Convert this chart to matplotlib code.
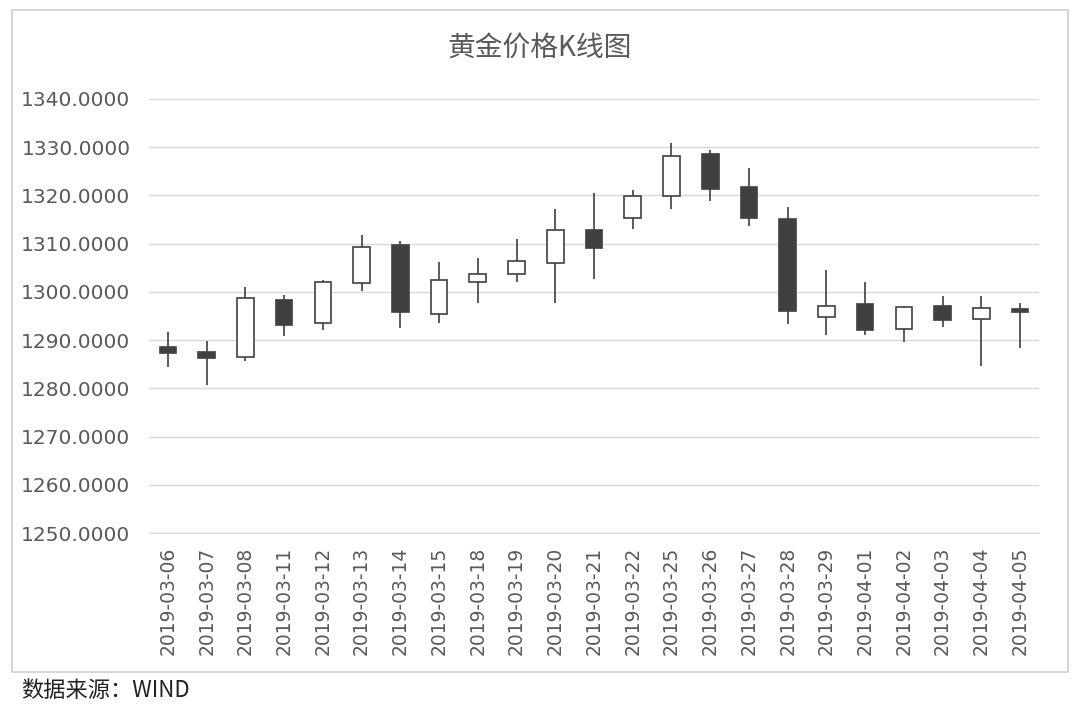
import matplotlib.pyplot as plt
from matplotlib.patches import Rectangle

plt.rcParams['font.family'] = ['DejaVu Sans', 'Noto Sans CJK SC']

dates = ["2019-03-06", "2019-03-07", "2019-03-08", "2019-03-11", "2019-03-12",
         "2019-03-13", "2019-03-14", "2019-03-15", "2019-03-18", "2019-03-19",
         "2019-03-20", "2019-03-21", "2019-03-22", "2019-03-25", "2019-03-26",
         "2019-03-27", "2019-03-28", "2019-03-29", "2019-04-01", "2019-04-02",
         "2019-04-03", "2019-04-04", "2019-04-05"]
opens = [1288.6, 1287.5, 1286.5, 1298.4, 1293.6, 1301.8, 1309.8, 1295.4,
         1302.0, 1303.7, 1306.0, 1312.9, 1315.4, 1319.8, 1328.6, 1321.7,
         1315.1, 1294.8, 1297.5, 1292.3, 1297.0, 1294.4, 1296.5]
closes = [1287.3, 1286.2, 1298.7, 1293.2, 1302.0, 1309.4, 1295.8, 1302.5,
          1303.8, 1306.5, 1312.9, 1309.1, 1319.9, 1328.2, 1321.4, 1315.3,
          1296.0, 1297.1, 1292.2, 1296.9, 1294.2, 1296.7, 1295.8]
highs = [1291.6, 1289.8, 1301.1, 1299.4, 1302.5, 1311.8, 1310.5, 1306.3,
         1307.0, 1311.0, 1317.2, 1320.5, 1321.2, 1330.8, 1329.4, 1325.6,
         1317.7, 1304.6, 1302.0, 1297.0, 1299.1, 1299.1, 1297.7]
lows = [1284.4, 1280.8, 1285.6, 1290.8, 1292.0, 1300.1, 1292.5, 1293.6,
        1297.8, 1302.0, 1297.8, 1302.7, 1313.0, 1317.2, 1318.8, 1313.6,
        1293.4, 1291.1, 1291.0, 1289.6, 1292.8, 1284.7, 1288.4]

grey = '#595959'
dark = '#404040'

fig = plt.figure(figsize=(10.8, 7.07), dpi=100)
ax = fig.add_axes([0.1376, 0.246, 0.8248, 0.614])

x = list(range(len(dates)))
ax.vlines(x, lows, highs, color=dark, linewidth=1.2, zorder=2)
bottoms = [min(o, c) for o, c in zip(opens, closes)]
heights = [max(abs(c - o), 0.3) for o, c in zip(opens, closes)]
faces = ['white' if c > o else dark for o, c in zip(opens, closes)]
ax.bar(x, heights, bottom=bottoms, width=0.43, color=faces,
       edgecolor=dark, linewidth=1.2, zorder=3)

ax.set_xlim(-0.5, len(dates) - 0.5)
ax.set_ylim(1250, 1340)
ax.set_yticks(range(1250, 1341, 10))
ax.set_yticklabels(['%.4f' % v for v in range(1250, 1341, 10)])
ax.set_xticks(x)
ax.set_xticklabels(dates, rotation=90)
ax.tick_params(axis='both', length=0, colors=grey, labelsize=13.5)
ax.tick_params(axis='y', labelsize=14.5, pad=13)
ax.tick_params(axis='x', pad=10)
ax.grid(axis='y', color='#d9d9d9', linewidth=1)
ax.set_axisbelow(True)
for s in ['top', 'right', 'left']:
    ax.spines[s].set_visible(False)
ax.spines['bottom'].set_color('#d9d9d9')

fig.text(0.5, 0.932, '黄金价格K线图', ha='center', va='center',
         fontsize=20, color=grey, family=['Noto Sans CJK SC'])
fig.text(0.02, 0.024, '数据来源：WIND', ha='left', va='center',
         fontsize=16, color='#222222', family=['Noto Sans CJK SC'])

fig.patches.append(Rectangle((0.011, 0.049), 0.978, 0.937, transform=fig.transFigure,
                             fill=False, edgecolor='#d0d0d0', linewidth=1.2))

fig.savefig('out.png', dpi=100)
